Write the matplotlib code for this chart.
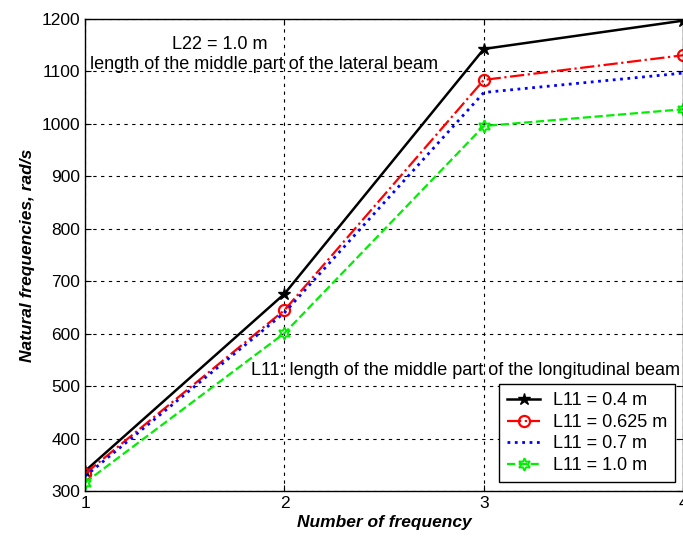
import matplotlib.pyplot as plt

plt.rcParams['font.family'] = ['Liberation Sans', 'DejaVu Sans']

freq_no = [1, 2, 3, 4]
l11_04 = [338, 676, 1143, 1197]
l11_0625 = [333, 645, 1084, 1131]
l11_07 = [328, 640, 1060, 1097]
l11_10 = [316, 601, 996, 1028]
labels = ['L11 = 0.4 m', 'L11 = 0.625 m', 'L11 = 0.7 m', 'L11 = 1.0 m']

fig = plt.figure(figsize=(6.83, 5.44), dpi=100)
ax = fig.add_axes([0.1245, 0.0974, 0.876, 0.8676])

ax.plot(freq_no, l11_04, '-', color='black', lw=1.8, marker='*',
        ms=9, mfc='black', mec='black', label=labels[0])
ax.plot(freq_no, l11_0625, '-.', color='red', lw=1.6, marker='o',
        ms=8, mfc='none', mec='red', mew=1.6, label=labels[1])
ax.plot(freq_no, l11_07, ':', color='blue', lw=2.0, label=labels[2])
ax.plot(freq_no, l11_10, '--', color='#00ee00', lw=1.6, marker=(6, 1, 0),
        ms=9, mfc='none', mec='#00ee00', mew=1.4, label=labels[3])

ax.set_xlim(1, 4)
ax.set_ylim(300, 1200)
ax.set_xticks(freq_no)
ax.set_yticks(range(300, 1201, 100))
ax.grid(True, color='black', linestyle=(0, (3, 4)), linewidth=0.8)
ax.tick_params(direction='in', top=True, right=True, labelsize=12.5, length=4)
for s in ax.spines.values():
    s.set_linewidth(1.0)

ax.set_xlabel('Number of frequency', fontsize=12.5, fontstyle='italic',
              fontweight='bold', labelpad=3)
ax.set_ylabel('Natural frequencies, rad/s', fontsize=12.5, fontstyle='italic',
              fontweight='bold', labelpad=5)

ax.text(0.225, 0.945, 'L22 = 1.0 m', transform=ax.transAxes,
        ha='center', va='center', fontsize=13)
ax.text(0.008, 0.903, 'length of the middle part of the lateral beam',
        transform=ax.transAxes, ha='left', va='center', fontsize=13)
ax.text(0.278, 0.255, 'L11: length of the middle part of the longitudinal beam',
        transform=ax.transAxes, ha='left', va='center', fontsize=13)

leg = ax.legend(loc='lower right', bbox_to_anchor=(0.986, 0.019), fontsize=13,
                fancybox=False, framealpha=1, edgecolor='black',
                borderaxespad=0, handlelength=1.8, borderpad=0.45,
                labelspacing=0.25, handletextpad=0.7)
leg.get_frame().set_linewidth(1.0)

fig.savefig('out.png', dpi=100)
